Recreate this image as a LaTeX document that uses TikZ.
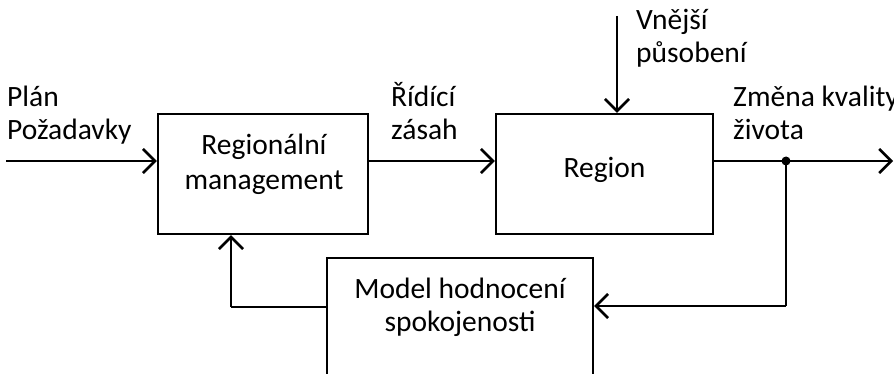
\documentclass[tikz,border=0pt]{standalone}
\usepackage{fontspec}
\setmainfont{Carlito}
\usetikzlibrary{arrows.meta}
\begin{document}
\begin{tikzpicture}[x=1pt,y=-1pt,
  blk/.style={draw, line width=2.4pt, inner sep=0pt, minimum width=#1},
  arr/.style={line width=2.6pt, -{Straight Barb[length=12pt,width=24pt,line width=2.6pt]}},
  wire/.style={line width=2.6pt},
  txt/.style={inner sep=0pt, anchor=base west, font=\fontsize{29.5}{35}\selectfont},
  ctr/.style={inner sep=0pt, anchor=base, font=\fontsize{29.5}{35}\selectfont}]
\useasboundingbox (0,0) rectangle (894,374);
\clip (0,0) rectangle (894,374);

% blocks
\node[blk=210pt, minimum height=120pt] (rm) at (263,174) {};
\node[blk=217pt, minimum height=120pt] (rg) at (604.5,174) {};
\node[blk=266pt, minimum height=140pt] (md) at (460,328) {};

% block captions
\node[ctr] (rmA) at (264,155) {Regionální};
\node[ctr] (rmB) at (264,190) {management};
\node[ctr] (rgA) at (604.5,178) {Region};
\node[ctr] (mdA) at (460,298) {Model hodnocení};
\node[ctr] (mdB) at (460,331) {spokojenosti};

% signal labels
\node[txt] (l1) at (7,107) {Plán};
\node[txt] (l2) at (7,140) {Požadavky};
\node[txt] (l3) at (391,107) {Řídící};
\node[txt] (l4) at (391,140) {zásah};
\node[txt] (l5) at (636,30) {Vnější};
\node[txt] (l6) at (636,63) {působení};
\node[txt] (l7) at (733,107) {Změna kvality};
\node[txt] (l8) at (733,140) {života};

% connector end points
\coordinate (inL) at (6,161);
\coordinate (ext) at (617,16);
\coordinate (outR) at (893,161);
\coordinate (tap) at (786,161);
\coordinate (fbR) at (786,306);
\coordinate (fbL) at (231,307);

% forward path
\draw[arr] (inL) -- (inL -| rm.west);
\draw[arr] (rm.east |- inL) -- (rg.west |- inL);
\draw[arr] (ext) -- (ext |- rg.north);
\draw[arr] (rg.east |- outR) -- (outR);
\fill (tap) circle (4.5pt);

% feedback path
\draw[wire] (tap) -- (fbR);
\draw[arr] (fbR) -- (fbR -| md.east);
\draw[wire] (md.west |- fbL) -- (fbL);
\draw[arr] (fbL) -- (fbL |- rm.south);
\end{tikzpicture}
\end{document}
